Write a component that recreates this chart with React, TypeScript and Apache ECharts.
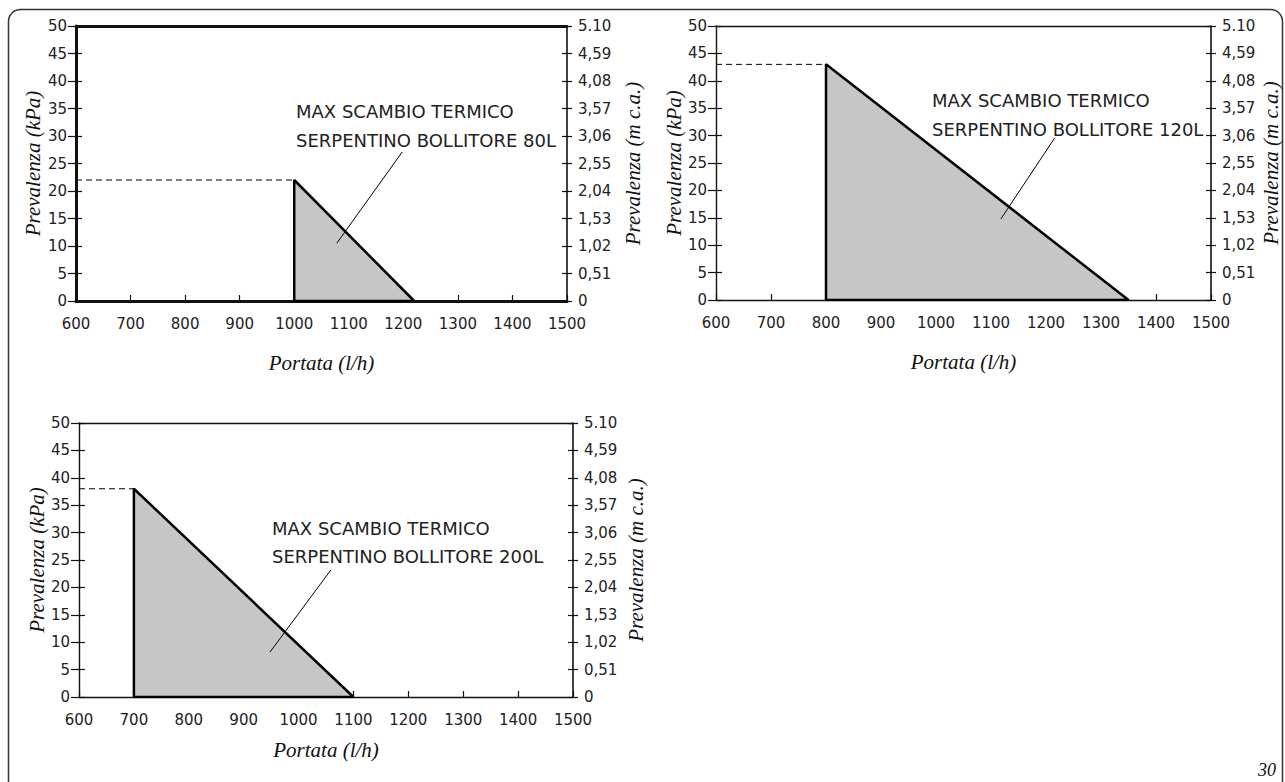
import React, { useEffect, useRef } from "react";
import * as echarts from "echarts";

// ---- data ----
const flowMin = 600;
const flowMax = 1500;
const flowStep = 100;
const kpaMin = 0;
const kpaMax = 50;
const kpaStep = 5;
const mcaLabels = ["0", "0,51", "1,02", "1,53", "2,04", "2,55", "3,06", "3,57", "4,08", "4,59", "5.10"];
const vertexFlow = [1000, 800, 700];
const vertexHead = [22, 43, 38];
const endFlow = [1220, 1350, 1100];
const titleLine1 = ["MAX SCAMBIO TERMICO", "MAX SCAMBIO TERMICO", "MAX SCAMBIO TERMICO"];
const titleLine2 = ["SERPENTINO BOLLITORE 80L", "SERPENTINO BOLLITORE 120L", "SERPENTINO BOLLITORE 200L"];
const leaderStart = [[1198, 27.1], [1216, 29.6], [1059, 23.2]];
const leaderEnd = [[1078, 10.5], [1118, 14.8], [948, 8.2]];
const xName = "Portata (l/h)";
const yLeftName = "Prevalenza (kPa)";
const yRightName = "Prevalenza (m c.a.)";
const pageNumber = "30";

// ---- layout ----
const grids = [
  { left: 76, top: 26, width: 491, height: 275, thick: true, gapL: 33, gapR: 55, gapX: 51, tx: 296, ty: [111, 140] },
  { left: 716, top: 26, width: 495, height: 274, thick: false, gapL: 25, gapR: 49, gapX: 51, tx: 932, ty: [100, 129] },
  { left: 79, top: 423, width: 494, height: 274, thick: false, gapL: 32, gapR: 52, gapX: 42, tx: 272, ty: [528, 556] },
];

const INK = "#111";
const LABEL_FONT = "DejaVu Sans";
const SERIF = "Liberation Serif";
const TITLE_SIZE = 21;

export default function App() {
  const ref = useRef<HTMLDivElement>(null);
  useEffect(() => {
    if (!ref.current) return;
    const chart = echarts.init(ref.current, undefined, { renderer: "svg" });

    const xAxis: any[] = [];
    const yAxis: any[] = [];
    const series: any[] = [];
    const graphic: any[] = [];
    const nameStyle = { fontFamily: SERIF, fontStyle: "italic", fontSize: TITLE_SIZE, color: INK };

    grids.forEach((g, i) => {
      const mainW = g.thick ? 3 : 1.4;
      xAxis.push({
        type: "value", gridIndex: i, position: "bottom", min: flowMin, max: flowMax, interval: flowStep,
        axisLine: { show: true, onZero: false, lineStyle: { color: INK, width: mainW } },
        axisTick: { show: true, inside: true, length: 6, lineStyle: { color: INK, width: 1.2 } },
        axisLabel: {
          show: true, margin: 15, color: "#222", fontFamily: LABEL_FONT, fontSize: 15,
          formatter: (v: number) => String(v),
        },
        splitLine: { show: false },
        name: xName, nameLocation: "middle", nameGap: g.gapX, nameTextStyle: nameStyle,
      });
      xAxis.push({
        type: "value", gridIndex: i, position: "top", min: flowMin, max: flowMax, interval: flowStep,
        axisLine: { show: true, onZero: false, lineStyle: { color: INK, width: mainW } },
        axisTick: { show: false }, axisLabel: { show: false }, splitLine: { show: false },
      });
      const baseY = {
        type: "value", gridIndex: i, min: kpaMin, max: kpaMax, interval: kpaStep, splitLine: { show: false },
      };
      yAxis.push({
        ...baseY, position: "left",
        axisLine: { show: true, onZero: false, lineStyle: { color: INK, width: mainW } },
        axisTick: { show: true, inside: false, length: 8, lineStyle: { color: INK, width: 1.2 } },
        axisLabel: { show: true, margin: 9, color: "#222", fontFamily: LABEL_FONT, fontSize: 15 },
        name: yLeftName, nameLocation: "middle", nameGap: g.gapL, nameRotate: 90, nameTextStyle: nameStyle,
      });
      yAxis.push({
        ...baseY, position: "left",
        axisLine: { show: false },
        axisTick: { show: true, inside: true, length: 6, lineStyle: { color: INK, width: 1.2 } },
        axisLabel: { show: false },
      });
      yAxis.push({
        ...baseY, position: "right",
        axisLine: { show: true, onZero: false, lineStyle: { color: INK, width: 1.6 } },
        axisTick: { show: true, inside: false, length: 5, lineStyle: { color: INK, width: 1.2 } },
        axisLabel: {
          show: true, margin: 11, color: "#222", fontFamily: LABEL_FONT, fontSize: 15,
          formatter: (v: number) => mcaLabels[Math.round(v / kpaStep)],
        },
        name: yRightName, nameLocation: "middle", nameGap: g.gapR, nameRotate: 90, nameTextStyle: nameStyle,
      });
      yAxis.push({
        ...baseY, position: "right",
        axisLine: { show: false },
        axisTick: { show: true, inside: true, length: 5, lineStyle: { color: INK, width: 1.2 } },
        axisLabel: { show: false },
      });

      const xi = i * 2;
      const yi = i * 4;
      series.push({
        type: "line", xAxisIndex: xi, yAxisIndex: yi, symbol: "none", z: 3,
        data: [[vertexFlow[i], 0], [vertexFlow[i], vertexHead[i]], [endFlow[i], 0], [vertexFlow[i], 0]],
        lineStyle: { color: "#000", width: 2.5 },
        areaStyle: { color: "#c6c6c6", opacity: 1 },
      });
      series.push({
        type: "line", xAxisIndex: xi, yAxisIndex: yi, symbol: "none", z: 2,
        data: [[flowMin, vertexHead[i]], [vertexFlow[i], vertexHead[i]]],
        lineStyle: { color: "#000", width: 1, type: [6, 4] },
      });
      series.push({
        type: "line", xAxisIndex: xi, yAxisIndex: yi, symbol: "none", z: 4,
        data: [leaderStart[i], leaderEnd[i]],
        lineStyle: { color: "#000", width: 1 },
      });

      graphic.push({
        type: "text", x: g.tx, y: g.ty[0], z: 10,
        style: { text: titleLine1[i], fill: "#222", font: `18px "${LABEL_FONT}"`, verticalAlign: "middle" },
      });
      graphic.push({
        type: "text", x: g.tx, y: g.ty[1], z: 10,
        style: { text: titleLine2[i], fill: "#222", font: `18px "${LABEL_FONT}"`, verticalAlign: "middle" },
      });
    });

    graphic.push({
      type: "rect", z: 0, silent: true,
      shape: { x: 8.5, y: 9.5, width: 1274, height: 830, r: 12 },
      style: { fill: "none", stroke: "#333", lineWidth: 1.5 },
    });
    graphic.push({
      type: "text", x: 1276, y: 770, z: 10,
      style: { text: pageNumber, fill: INK, font: `italic 18px "${SERIF}"`, align: "right", verticalAlign: "middle" },
    });

    chart.setOption({
      animation: false,
      backgroundColor: "#fff",
      grid: grids.map((g) => ({ left: g.left, top: g.top, width: g.width, height: g.height, show: false })),
      xAxis,
      yAxis,
      series,
      graphic,
    });
    return () => chart.dispose();
  }, []);
  return <div ref={ref} style={{ position: "fixed", left: 0, top: 0, width: 1285, height: 782, background: "#fff" }} />;
}
